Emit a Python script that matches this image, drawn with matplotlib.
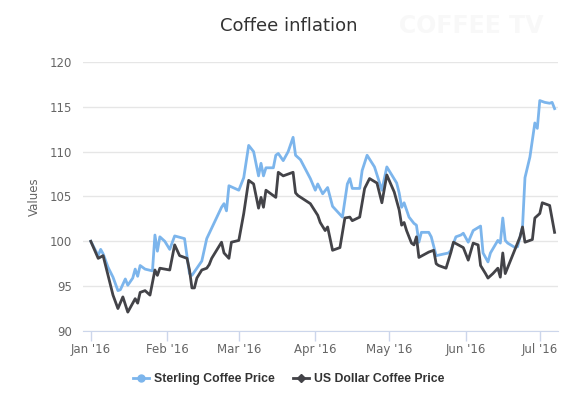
import pandas as pd
import matplotlib.pyplot as plt
from matplotlib.lines import Line2D

# Sterling price index
gbp_dates = [
    "01-01", "01-04", "01-05", "01-06", "01-08", "01-10", "01-12", "01-13",
    "01-15", "01-16", "01-18", "01-19", "01-20", "01-21", "01-23", "01-26",
    "01-27", "01-28", "01-29", "01-31", "02-02", "02-04", "02-08", "02-10",
    "02-11", "02-15", "02-17", "02-23", "02-24", "02-25", "02-26", "03-01",
    "03-03", "03-05", "03-07", "03-09", "03-10", "03-11", "03-12", "03-15",
    "03-16", "03-17", "03-19", "03-21", "03-23", "03-24", "03-26", "03-30",
    "04-01", "04-02", "04-04", "04-06", "04-08", "04-12", "04-14", "04-15",
    "04-16", "04-19", "04-20", "04-22", "04-25", "04-28", "04-30", "05-04",
    "05-05", "05-06", "05-07", "05-09", "05-11", "05-12", "05-13", "05-14",
    "05-17", "05-18", "05-20", "05-25", "05-26", "05-28", "05-30", "05-31",
    "06-02", "06-04", "06-07", "06-08", "06-10", "06-11", "06-14", "06-15",
    "06-16", "06-17", "06-18", "06-21", "06-22", "06-24", "06-25", "06-27",
    "06-29", "06-30", "07-01", "07-03", "07-05", "07-06", "07-07",
]
gbp_values = [
    100.0, 98.4, 99.1, 98.6, 97.1, 96.0, 94.5, 94.6,
    95.8, 95.1, 95.9, 96.9, 96.1, 97.3, 96.9, 96.7,
    100.7, 98.9, 100.5, 100.0, 99.1, 100.6, 100.3, 96.4,
    96.2, 97.8, 100.3, 103.8, 104.2, 103.4, 106.2, 105.7,
    107.1, 110.7, 110.0, 107.3, 108.7, 107.3, 108.2, 108.2,
    109.6, 109.8, 109.0, 110.0, 111.6, 109.6, 109.1, 107.0,
    105.7, 106.4, 105.3, 106.0, 103.9, 102.7, 106.4, 107.0,
    105.9, 105.9, 107.9, 109.6, 108.3, 105.7, 108.3, 106.5,
    105.4, 103.8, 104.3, 102.7, 102.0, 101.8, 99.9, 101.0,
    101.0, 100.5, 98.4, 98.7, 99.0, 100.5, 100.7, 100.9,
    99.9, 101.2, 101.7, 98.7, 97.7, 98.7, 100.1, 99.8,
    102.6, 100.1, 99.8, 99.3, 99.4, 101.6, 107.1, 109.4,
    113.2, 112.6, 115.7, 115.5, 115.4, 115.5, 114.8,
]

# US dollar price index
usd_dates = [
    "01-01", "01-04", "01-06", "01-08", "01-10", "01-12", "01-14", "01-16",
    "01-19", "01-20", "01-21", "01-23", "01-25", "01-27", "01-28", "01-29",
    "02-02", "02-04", "02-06", "02-09", "02-10", "02-11", "02-12", "02-13",
    "02-15", "02-17", "02-18", "02-19", "02-23", "02-24", "02-26", "02-27",
    "03-01", "03-03", "03-05", "03-07", "03-09", "03-10", "03-11", "03-12",
    "03-16", "03-17", "03-19", "03-23", "03-24", "03-25", "03-30", "04-02",
    "04-03", "04-05", "04-06", "04-08", "04-11", "04-13", "04-15", "04-16",
    "04-19", "04-21", "04-23", "04-26", "04-28", "04-30", "05-03", "05-05",
    "05-06", "05-07", "05-08", "05-10", "05-11", "05-12", "05-13", "05-17",
    "05-19", "05-20", "05-21", "05-24", "05-26", "05-27", "05-31", "06-02",
    "06-04", "06-06", "06-07", "06-09", "06-10", "06-12", "06-14", "06-15",
    "06-16", "06-17", "06-23", "06-24", "06-25", "06-28", "06-29", "07-01",
    "07-02", "07-05", "07-07",
]
usd_values = [
    100.0, 98.1, 98.4, 96.2, 94.0, 92.5, 93.8, 92.1,
    93.6, 93.1, 94.3, 94.5, 94.0, 96.8, 96.2, 97.0,
    96.8, 99.6, 98.4, 98.1, 96.8, 94.8, 94.8, 95.9,
    96.8, 97.0, 97.4, 98.1, 99.9, 98.7, 98.1, 99.9,
    100.1, 103.1, 106.8, 106.4, 103.7, 104.9, 103.8, 105.7,
    104.9, 107.7, 107.3, 107.7, 105.4, 105.1, 104.2, 102.9,
    102.1, 101.2, 101.6, 99.0, 99.3, 102.6, 102.7, 102.3,
    102.7, 105.9, 107.0, 106.5, 104.3, 107.4, 105.5, 103.5,
    101.8, 102.1, 101.2, 99.8, 99.6, 100.5, 98.2, 98.8,
    99.0, 97.5, 97.3, 97.0, 98.8, 99.9, 99.3, 97.9,
    99.8, 99.6, 97.3, 96.4, 95.9, 96.4, 97.0, 96.0,
    98.7, 96.4, 100.5, 101.6, 99.9, 100.2, 102.6, 103.1,
    104.3, 104.0, 101.0,
]

month_ticks = ["2016-01-01", "2016-02-01", "2016-03-01", "2016-04-01",
               "2016-05-01", "2016-06-01", "2016-07-01"]
month_labels = ["Jan '16", "Feb '16", "Mar '16", "Apr '16",
                "May '16", "Jun '16", "Jul '16"]
y_ticks = [90, 95, 100, 105, 110, 115, 120]

gbp_x = pd.to_datetime(["2016-" + d for d in gbp_dates])
usd_x = pd.to_datetime(["2016-" + d for d in usd_dates])

BLUE = "#7cb5ec"
DARK = "#434348"

plt.rcParams["font.family"] = ["DejaVu Sans"]

fig = plt.figure(figsize=(5.86, 3.94), dpi=100)
ax = fig.add_axes([0.1416, 0.160, 0.8104, 0.6826])

ax.plot(gbp_x, gbp_values, color=BLUE, lw=2, solid_joinstyle="round")
ax.plot(usd_x, usd_values, color=DARK, lw=2, solid_joinstyle="round")

ax.set_ylim(90, 120)
ax.set_yticks(y_ticks)
ax.set_xlim(pd.Timestamp("2015-12-28 20:00"), pd.Timestamp("2016-07-08 08:00"))
ax.set_xticks(pd.to_datetime(month_ticks))
ax.set_xticklabels(month_labels)

ax.grid(axis="y", color="#e6e6e6", lw=1)
ax.set_axisbelow(True)
for side in ["top", "right", "left"]:
    ax.spines[side].set_visible(False)
ax.spines["bottom"].set_color("#ccd6eb")
ax.tick_params(axis="y", length=0, labelsize=8.5, labelcolor="#666666", pad=8)
ax.tick_params(axis="x", length=7, width=1, color="#ccd6eb", direction="out",
               labelsize=8.5, labelcolor="#666666", pad=2)

ax.set_ylabel("Values", fontsize=8.5, color="#666666", labelpad=6)

fig.text(0.493, 0.935, "Coffee inflation", ha="center", va="center",
         fontsize=13, color="#333333")
# very faint watermark in the top-right corner
fig.text(0.805, 0.935, "COFFEE TV", ha="center", va="center", fontsize=17,
         fontweight="bold", color="#f8f8f8")

handles = [
    Line2D([], [], color=BLUE, lw=2, marker="o", markersize=5),
    Line2D([], [], color=DARK, lw=2, marker="D", markersize=4),
]
fig.legend(handles, ["Sterling Coffee Price", "US Dollar Coffee Price"],
           loc="center", bbox_to_anchor=(0.493, 0.038), ncol=2, frameon=False,
           prop={"family": "Liberation Sans", "size": 8.8, "weight": "bold"},
           labelcolor="#333333", handlelength=1.3, handletextpad=0.4,
           columnspacing=1.5)

fig.savefig("out.png", dpi=100)
